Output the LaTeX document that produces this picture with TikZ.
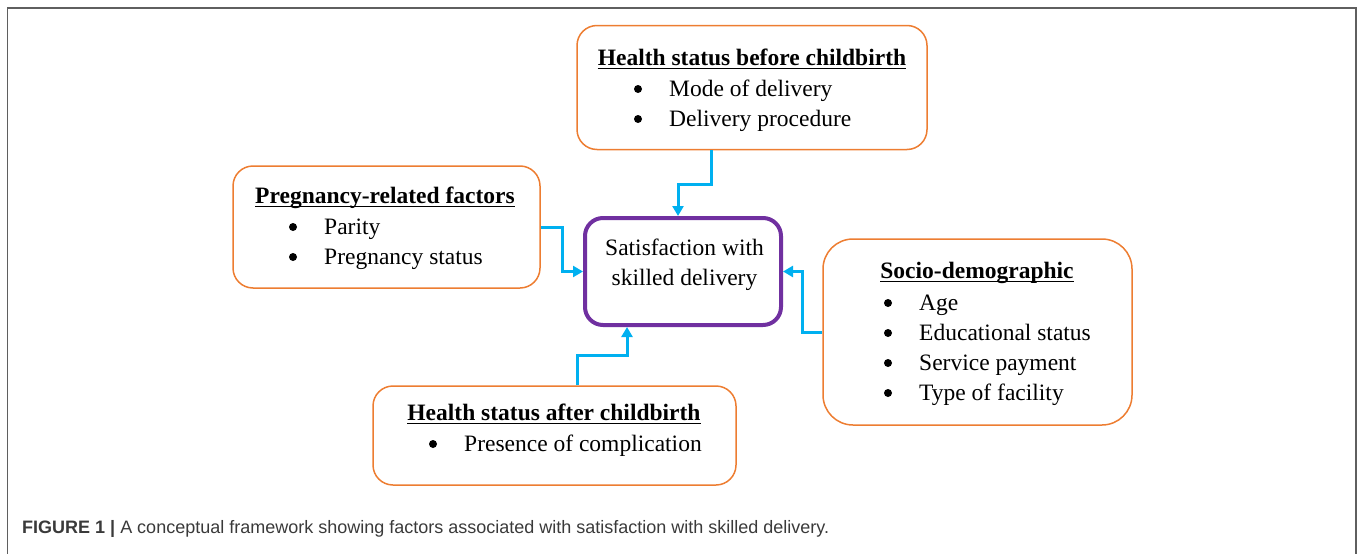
\documentclass[tikz,border=0pt]{standalone}
\usepackage{fontspec}
\setmainfont{Liberation Serif}
\newfontfamily\capfont{Liberation Sans}
\usetikzlibrary{arrows.meta}
\definecolor{boxorange}{HTML}{ED7D31}
\definecolor{boxpurple}{HTML}{7030A0}
\definecolor{arrowblue}{HTML}{00B0F0}
\definecolor{framegray}{HTML}{5F5F5F}
\definecolor{capgray}{HTML}{3A3A3A}
\tikzset{
  obox/.style={draw=boxorange, line width=1.5pt, rounded corners=20pt, inner sep=0pt},
  pbox/.style={draw=boxpurple, line width=4pt, rounded corners=18pt, inner sep=0pt},
  txt/.style={inner sep=0pt, font=\fontsize{23.5}{28}\selectfont, anchor=base west},
  ttl/.style={inner sep=0pt, font=\fontsize{23.5}{28}\selectfont\bfseries, anchor=base},
  dot/.style={circle, fill=black, inner sep=0pt, minimum size=8pt, yshift=7pt},
  ctr/.style={inner sep=0pt, font=\fontsize{23.5}{28}\selectfont, anchor=base},
  uline/.style={line width=1.3pt},
  conn/.style={draw=arrowblue, line width=3pt, -{Triangle[length=10pt,width=11pt]}}
}
\begin{document}
\begin{tikzpicture}[x=1pt,y=-1pt]
\useasboundingbox (0,0) rectangle (1357,554);
% frame
\draw[framegray, line width=1.6pt] (7.5,554) -- (7.5,8) -- (1356,8) -- (1356,554);

% boxes
\node[obox, minimum width=350pt, minimum height=124pt] (hb) at (752,87.5) {};
\node[obox, minimum width=307pt, minimum height=122pt] (lb) at (386.5,227) {};
\node[pbox, minimum width=196pt, minimum height=107pt] (sat) at (683,271.5) {};
\node[obox, rounded corners=30pt, minimum width=309pt, minimum height=186pt] (rb) at (977.5,332) {};
\node[obox, minimum width=363pt, minimum height=99pt] (bb) at (554.5,435.5) {};

% top box text
\node[ttl] (t1) at (752,65) {Health status before childbirth};
\draw[uline] ([yshift=-3.5pt]t1.base west) -- ([yshift=-3.5pt]t1.base east);
\node[dot] (b11) at (638,96) {};
\node[txt] (i11) at (669,96) {Mode of delivery};
\node[dot] (b12) at (638,126) {};
\node[txt] (i12) at (669,126) {Delivery procedure};

% left box text
\node[ttl] (t2) at (385,203) {Pregnancy-related factors};
\draw[uline] ([yshift=-3.5pt]t2.base west) -- ([yshift=-3.5pt]t2.base east);
\node[dot] (b21) at (293,234) {};
\node[txt] (i21) at (324,234) {Parity};
\node[dot] (b22) at (293,264) {};
\node[txt] (i22) at (324,264) {Pregnancy status};

% centre text
\node[ctr] (s1) at (684.5,255) {Satisfaction with};
\node[ctr] (s2) at (684.5,285) {skilled delivery};

% right box text
\node[ttl] (t3) at (977,278) {Socio-demographic};
\draw[uline] ([yshift=-3.5pt]t3.base west) -- ([yshift=-3.5pt]t3.base east);
\node[dot] (b31) at (888,310) {};
\node[txt] (i31) at (919,310) {Age};
\node[dot] (b32) at (888,340) {};
\node[txt] (i32) at (919,340) {Educational status};
\node[dot] (b33) at (888,370) {};
\node[txt] (i33) at (919,370) {Service payment};
\node[dot] (b34) at (888,400) {};
\node[txt] (i34) at (919,400) {Type of facility};

% bottom box text
\node[ttl] (t4) at (554,420) {Health status after childbirth};
\draw[uline] ([yshift=-3.5pt]t4.base west) -- ([yshift=-3.5pt]t4.base east);
\node[dot] (b41) at (433,451) {};
\node[txt] (i41) at (464,451) {Presence of complication};

% connectors
\draw[conn] ([xshift=-41pt]hb.south) -- ++(0,34.5) -| ([xshift=-5pt]sat.north);
\draw[conn] (lb.east) -- ++(22,0) |- (sat.west);
\draw[conn] (rb.west) -- ++(-20,0) |- (sat.east);
\draw[conn] ([xshift=22.5pt]bb.north) -- ++(0,-30) -| ([xshift=-56pt]sat.south);

% caption
\node[anchor=base west, inner sep=0pt, font=\capfont\fontsize{18}{21}\selectfont, text=capgray] (cap) at (22,533) {\textbf{FIGURE 1 |} A conceptual framework showing factors associated with satisfaction with skilled delivery.};
\end{tikzpicture}
\end{document}
